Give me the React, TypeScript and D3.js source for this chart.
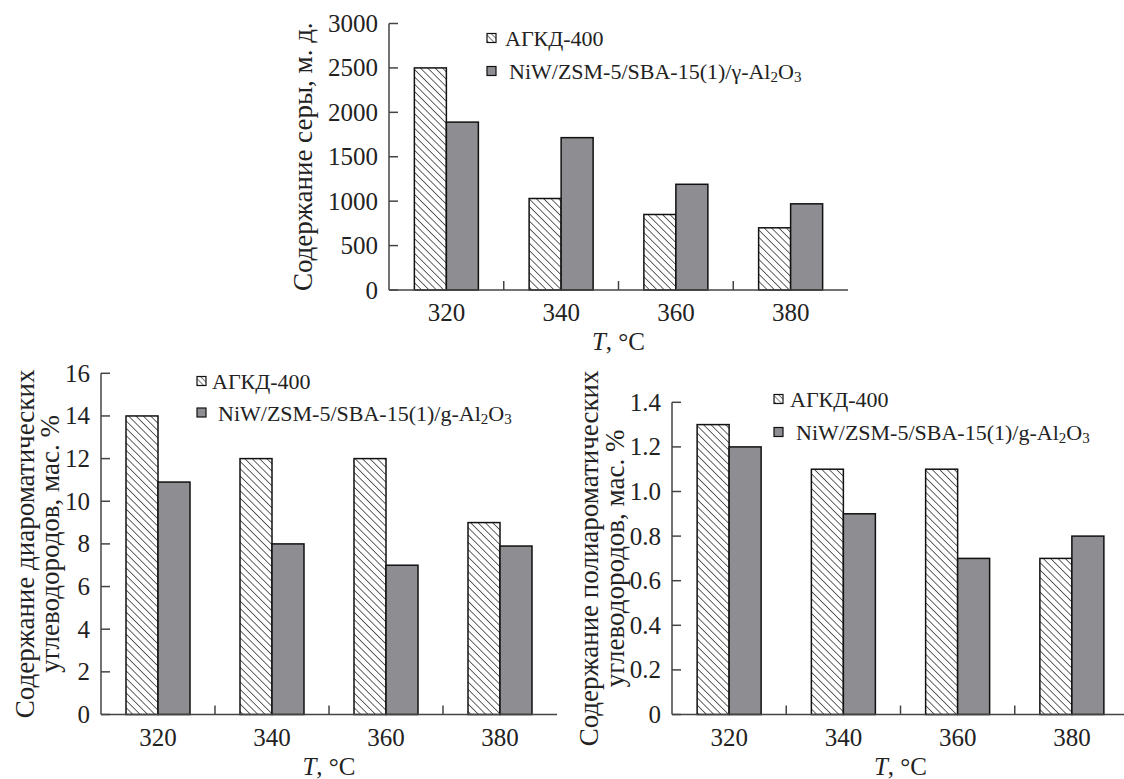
import React from "react";
import * as d3 from "d3";

const categories = ["320", "340", "360", "380"];
const seriesNames = ["АГКД-400", "NiW"];

const sulfurAGKD = [2500, 1030, 850, 700];
const sulfurNiW = [1890, 1715, 1190, 970];
const sulfurTicks = [0, 500, 1000, 1500, 2000, 2500, 3000];

const diaroAGKD = [14, 12, 12, 9];
const diaroNiW = [10.9, 8, 7, 7.9];
const diaroTicks = [0, 2, 4, 6, 8, 10, 12, 14, 16];

const polyAGKD = [1.3, 1.1, 1.1, 0.7];
const polyNiW = [1.2, 0.9, 0.7, 0.8];
const polyTicks = [0, 0.2, 0.4, 0.6, 0.8, 1.0, 1.2, 1.4];

const FONT = "Liberation Serif, Times New Roman, serif";
const GRAY = "#8e8e92";
const INK = "#222";
const AXIS = "#444";

type Panel = {
  id: string;
  x0: number;
  x1: number;
  yTop: number;
  yBottom: number;
  max: number;
  ticks: number[];
  fmt: (v: number) => string;
  a: number[];
  b: number[];
  titleLines: string[];
  titleX: number[];
  legendX: number;
  legendY: number[];
  legendTextX: number[];
  greek: string;
};

const panels: Panel[] = [
  {
    id: "top",
    x0: 389,
    x1: 848,
    yTop: 23.5,
    yBottom: 290,
    max: 3000,
    ticks: sulfurTicks,
    fmt: (v) => String(v),
    a: sulfurAGKD,
    b: sulfurNiW,
    titleLines: ["Содержание серы, м. д."],
    titleX: [312],
    legendX: 487,
    legendY: [38, 71],
    legendTextX: [505, 509],
    greek: "γ",
  },
  {
    id: "bl",
    x0: 101,
    x1: 557,
    yTop: 373.3,
    yBottom: 714.5,
    max: 16,
    ticks: diaroTicks,
    fmt: (v) => String(v),
    a: diaroAGKD,
    b: diaroNiW,
    titleLines: ["Содержание диароматических", "углеводородов, мас. %"],
    titleX: [34, 59],
    legendX: 197,
    legendY: [381, 412.5],
    legendTextX: [212, 218],
    greek: "g",
  },
  {
    id: "br",
    x0: 672,
    x1: 1129,
    yTop: 402.3,
    yBottom: 714.5,
    max: 1.4,
    ticks: polyTicks,
    fmt: (v) => (v === 0 ? "0" : v.toFixed(1)),
    a: polyAGKD,
    b: polyNiW,
    titleLines: ["Содержание полиароматических", "углеводородов, мас. %"],
    titleX: [598, 624],
    legendX: 774,
    legendY: [399, 432],
    legendTextX: [790, 796],
    greek: "g",
  },
];

function ChartPanel({ p }: { p: Panel }) {
  const x = d3.scaleBand<string>().domain(categories).range([p.x0, p.x1]).paddingInner(0).paddingOuter(0);
  const y = d3.scaleLinear().domain([0, p.max]).range([p.yBottom, p.yTop]);
  const barW = 32;
  const inner = d3.scaleBand<string>().domain(seriesNames).range([-barW, barW]);
  const centerX = (p.x0 + p.x1) / 2;
  const titleCY = (p.yTop + p.yBottom) / 2;
  const sw = 1.5;
  return (
    <g>
      {categories.map((c, i) => {
        const cx = (x(c) as number) + x.bandwidth() / 2;
        return (
          <g key={c}>
            <rect
              x={cx + (inner(seriesNames[0]) as number)}
              y={y(p.a[i])}
              width={inner.bandwidth()}
              height={p.yBottom - y(p.a[i])}
              fill="url(#hatch)"
              stroke="#111"
              strokeWidth={sw}
            />
            <rect
              x={cx + (inner(seriesNames[1]) as number)}
              y={y(p.b[i])}
              width={inner.bandwidth()}
              height={p.yBottom - y(p.b[i])}
              fill={GRAY}
              stroke="#111"
              strokeWidth={sw}
            />
          </g>
        );
      })}
      <line x1={p.x0} x2={p.x0} y1={p.yTop} y2={p.yBottom} stroke={AXIS} strokeWidth={1.5} />
      {p.ticks.map((t) => (
        <g key={t}>
          <line x1={p.x0} x2={p.x0 + 9} y1={y(t)} y2={y(t)} stroke={AXIS} strokeWidth={1.5} />
          <text
            x={p.x0 - 11}
            y={y(t)}
            textAnchor="end"
            dominantBaseline="central"
            fontFamily={FONT}
            fontSize={25}
            fill={INK}
          >
            {p.fmt(t)}
          </text>
        </g>
      ))}
      <line x1={p.x0} x2={p.x1} y1={p.yBottom} y2={p.yBottom} stroke={AXIS} strokeWidth={1.5} />
      {categories.slice(1).map((c) => (
        <line
          key={c}
          x1={x(c) as number}
          x2={x(c) as number}
          y1={p.yBottom}
          y2={p.yBottom - 9}
          stroke={AXIS}
          strokeWidth={1.5}
        />
      ))}
      {categories.map((c) => (
        <text
          key={c}
          x={(x(c) as number) + x.bandwidth() / 2}
          y={p.yBottom + 31}
          textAnchor="middle"
          fontFamily={FONT}
          fontSize={25}
          fill={INK}
        >
          {c}
        </text>
      ))}
      <text x={centerX} y={p.yBottom + 60} textAnchor="middle" fontFamily={FONT} fontSize={25} fill={INK}>
        <tspan fontStyle="italic">T</tspan>
        <tspan>, °C</tspan>
      </text>
      {p.titleLines.map((line, i) => (
        <text
          key={i}
          transform={`translate(${p.titleX[i]},${titleCY}) rotate(-90)`}
          textAnchor="middle"
          fontFamily={FONT}
          fontSize={27}
          fill={INK}
        >
          {line}
        </text>
      ))}
      <rect
        x={p.legendX}
        y={p.legendY[0] - 4.5}
        width={9}
        height={9}
        fill="url(#hatchSmall)"
        stroke="#111"
        strokeWidth={1.2}
      />
      <text
        x={p.legendTextX[0]}
        y={p.legendY[0]}
        dominantBaseline="central"
        fontFamily={FONT}
        fontSize={22}
        fill={INK}
      >
        {seriesNames[0]}
      </text>
      <rect
        x={p.legendX}
        y={p.legendY[1] - 4.5}
        width={9}
        height={9}
        fill={GRAY}
        stroke="#111"
        strokeWidth={1.2}
      />
      <text
        x={p.legendTextX[1]}
        y={p.legendY[1]}
        dominantBaseline="central"
        fontFamily={FONT}
        fontSize={22}
        fill={INK}
      >
        <tspan>{`NiW/ZSM-5/SBA-15(1)/${p.greek}-Al`}</tspan>
        <tspan fontSize={15} dy={6}>2</tspan>
        <tspan dy={-6}>O</tspan>
        <tspan fontSize={15} dy={6}>3</tspan>
      </text>
    </g>
  );
}

export default function App() {
  return (
    <div style={{ position: "absolute", left: 0, top: 0 }}>
      <svg width={1124} height={779} style={{ display: "block", background: "#fff" }}>
        <defs>
          <pattern
            id="hatch"
            patternUnits="userSpaceOnUse"
            width={5.2}
            height={5.2}
            patternTransform="rotate(45)"
          >
            <rect width={5.2} height={5.2} fill="#fff" />
            <line x1={0} y1={0} x2={5.2} y2={0} stroke="#111" strokeWidth={1.3} />
          </pattern>
          <pattern
            id="hatchSmall"
            patternUnits="userSpaceOnUse"
            width={4}
            height={4}
            patternTransform="rotate(45)"
          >
            <rect width={4} height={4} fill="#fff" />
            <line x1={0} y1={0} x2={4} y2={0} stroke="#111" strokeWidth={1.1} />
          </pattern>
        </defs>
        <rect width={1124} height={779} fill="#fff" />
        {panels.map((p) => (
          <ChartPanel key={p.id} p={p} />
        ))}
      </svg>
    </div>
  );
}
